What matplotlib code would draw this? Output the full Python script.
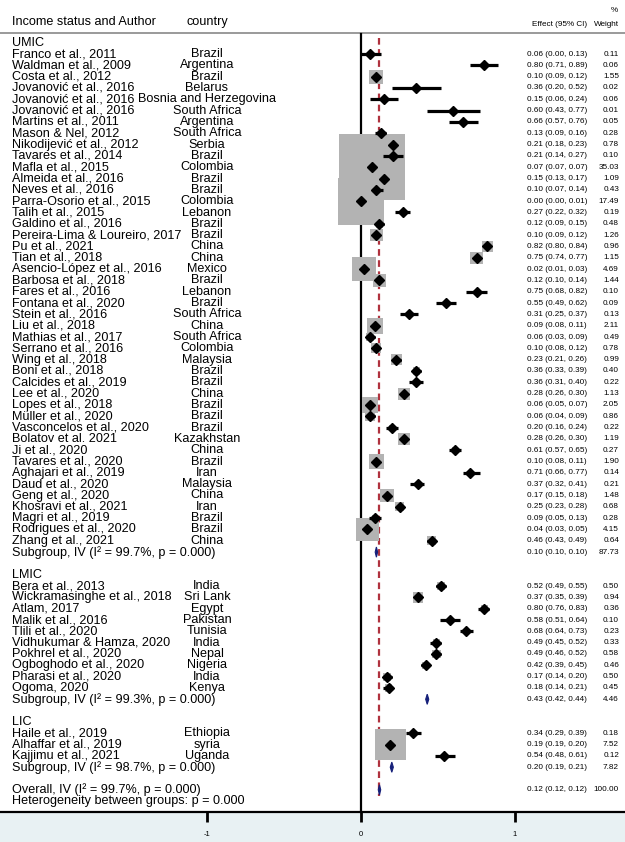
import matplotlib
matplotlib.use("Agg")
import matplotlib.pyplot as plt
from matplotlib.patches import Polygon
from matplotlib.transforms import blended_transform_factory

plt.rcParams['font.family'] = ['Liberation Sans', 'DejaVu Sans']

# ---- data ----
groups = ['UMIC', 'LMIC', 'LIC']

authors = [
    'Franco et al., 2011', 'Waldman et al., 2009', 'Costa et al., 2012',
    'Jovanović et al., 2016', 'Jovanović et al., 2016', 'Jovanović et al., 2016',
    'Martins et al., 2011', 'Mason & Nel, 2012', 'Nikodijević et al., 2012',
    'Tavares et al., 2014', 'Mafla et al., 2015', 'Almeida et al., 2016',
    'Neves et al., 2016', 'Parra-Osorio et al., 2015', 'Talih et al., 2015',
    'Galdino et al., 2016', 'Pereira-Lima & Loureiro, 2017', 'Pu et al., 2021',
    'Tian et al., 2018', 'Asencio-López et al., 2016', 'Barbosa et al., 2018',
    'Fares et al., 2016', 'Fontana et al., 2020', 'Stein et al., 2016',
    'Liu et al., 2018', 'Mathias et al., 2017', 'Serrano et al., 2016',
    'Wing et al., 2018', 'Boni et al., 2018', 'Calcides et al., 2019',
    'Lee et al., 2020', 'Lopes et al., 2018', 'Müller et al., 2020',
    'Vasconcelos et al., 2020', 'Bolatov et al. 2021', 'Ji et al., 2020',
    'Tavares et al., 2020', 'Aghajari et al., 2019', 'Daud et al., 2020',
    'Geng et al., 2020', 'Khosravi et al., 2021', 'Magri et al., 2019',
    'Rodrigues et al., 2020', 'Zhang et al., 2021',
    'Bera et al., 2013', 'Wickramasinghe et al., 2018', 'Atlam, 2017',
    'Malik et al., 2016', 'Tlili et al., 2020', 'Vidhukumar & Hamza, 2020',
    'Pokhrel et al., 2020', 'Ogboghodo et al., 2020', 'Pharasi et al., 2020',
    'Ogoma, 2020',
    'Haile et al., 2019', 'Alhaffar et al., 2019', 'Kajjimu et al., 2021',
]

countries = [
    'Brazil', 'Argentina', 'Brazil', 'Belarus', 'Bosnia and Herzegovina',
    'South Africa', 'Argentina', 'South Africa', 'Serbia', 'Brazil',
    'Colombia', 'Brazil', 'Brazil', 'Colombia', 'Lebanon', 'Brazil', 'Brazil',
    'China', 'China', 'Mexico', 'Brazil', 'Lebanon', 'Brazil', 'South Africa',
    'China', 'South Africa', 'Colombia', 'Malaysia', 'Brazil', 'Brazil',
    'China', 'Brazil', 'Brazil', 'Brazil', 'Kazakhstan', 'China', 'Brazil',
    'Iran', 'Malaysia', 'China', 'Iran', 'Brazil', 'Brazil', 'China',
    'India', 'Sri Lank', 'Egypt', 'Pakistan', 'Tunisia', 'India', 'Nepal',
    'Nigeria', 'India', 'Kenya',
    'Ethiopia', 'syria', 'Uganda',
]

group_of = ['UMIC'] * 44 + ['LMIC'] * 10 + ['LIC'] * 3

est = [0.06, 0.80, 0.10, 0.36, 0.15, 0.60, 0.66, 0.13, 0.21, 0.21, 0.07, 0.15,
       0.10, 0.00, 0.27, 0.12, 0.10, 0.82, 0.75, 0.02, 0.12, 0.75, 0.55, 0.31,
       0.09, 0.06, 0.10, 0.23, 0.36, 0.36, 0.28, 0.06, 0.06, 0.20, 0.28, 0.61,
       0.10, 0.71, 0.37, 0.17, 0.25, 0.09, 0.04, 0.46,
       0.52, 0.37, 0.80, 0.58, 0.68, 0.49, 0.49, 0.42, 0.17, 0.18,
       0.34, 0.19, 0.54]
lo = [0.00, 0.71, 0.09, 0.20, 0.06, 0.43, 0.57, 0.09, 0.18, 0.14, 0.07, 0.13,
      0.07, 0.00, 0.22, 0.09, 0.09, 0.80, 0.74, 0.01, 0.10, 0.68, 0.49, 0.25,
      0.08, 0.03, 0.08, 0.21, 0.33, 0.31, 0.26, 0.05, 0.04, 0.16, 0.26, 0.57,
      0.08, 0.66, 0.32, 0.15, 0.23, 0.05, 0.03, 0.43,
      0.49, 0.35, 0.76, 0.51, 0.64, 0.45, 0.46, 0.39, 0.14, 0.14,
      0.29, 0.19, 0.48]
hi = [0.13, 0.89, 0.12, 0.52, 0.24, 0.77, 0.76, 0.16, 0.23, 0.27, 0.07, 0.17,
      0.14, 0.01, 0.32, 0.15, 0.12, 0.84, 0.77, 0.03, 0.14, 0.82, 0.62, 0.37,
      0.11, 0.09, 0.12, 0.26, 0.39, 0.40, 0.30, 0.07, 0.09, 0.24, 0.30, 0.65,
      0.11, 0.77, 0.41, 0.18, 0.28, 0.13, 0.05, 0.49,
      0.55, 0.39, 0.83, 0.64, 0.73, 0.52, 0.52, 0.45, 0.20, 0.21,
      0.39, 0.20, 0.61]
weight = [0.11, 0.06, 1.55, 0.02, 0.06, 0.01, 0.05, 0.28, 0.78, 0.10, 35.03,
          1.09, 0.43, 17.49, 0.19, 0.48, 1.26, 0.96, 1.15, 4.69, 1.44, 0.10,
          0.09, 0.13, 2.11, 0.49, 0.78, 0.99, 0.40, 0.22, 1.13, 2.05, 0.86,
          0.22, 1.19, 0.27, 1.90, 0.14, 0.21, 1.48, 0.68, 0.28, 4.15, 0.64,
          0.50, 0.94, 0.36, 0.10, 0.23, 0.33, 0.58, 0.46, 0.50, 0.45,
          0.18, 7.52, 0.12]

sub_est = [0.10, 0.43, 0.20]
sub_lo = [0.10, 0.42, 0.19]
sub_hi = [0.10, 0.44, 0.21]
sub_w = [87.73, 4.46, 7.82]
sub_i2 = [99.7, 99.3, 98.7]
sub_p = [0.000, 0.000, 0.000]

overall_est, overall_lo, overall_hi, overall_w = 0.12, 0.12, 0.12, 100.00
overall_i2, overall_p = 99.7, 0.000
between_p = 0.000

xticks = [-1, 0, 1]

# ---- layout (pixel mapping) ----
W, H = 625, 842
px0, px_per = 361, 154          # x = 0 at 361 px, 154 px per unit
row0_px, row_px = 42.7, 11.32   # row 0 at 42.7 px

fig = plt.figure(figsize=(W / 100, H / 100), dpi=100)
ax = fig.add_axes([0, 0, 1, 1])
ax.set_xlim(-px0 / px_per, (W - px0) / px_per)
ax.set_ylim((H - row0_px) / row_px, -row0_px / row_px)
ax.axis('off')

def prow(p):
    return (p - row0_px) / row_px

tx = blended_transform_factory(fig.transFigure, ax.transData)
def fx(p):
    return p / W

fs = 9.1
fs_small = 5.9
navy = '#16207a'

# rows
study_rows, sub_rows, head_rows = [], [], []
r = 0
for g in groups:
    head_rows.append(r)
    r += 1
    for i in range(len(authors)):
        if group_of[i] == g:
            study_rows.append(r)
            r += 1
    sub_rows.append(r)
    r += 2
overall_row = r
het_row = r + 1
axis_row = prow(812)

# bottom band and axis
ax.axhspan(axis_row, prow(H + 5), color='#e8f1f3', zorder=0)
ax.axhline(axis_row, color='black', lw=1.6, zorder=3)
ax.axhline(prow(33), color='#9a9a9a', lw=1.4, zorder=3)
for t in xticks:
    ax.plot([t, t], [axis_row, prow(822)], color='black', lw=2, zorder=3,
            solid_capstyle='butt')
    ax.text(t, prow(835), str(t), ha='center', va='center', fontsize=5.5)

# null line and overall line
ax.plot([0, 0], [prow(34), axis_row], color='black', lw=1.6, zorder=3)
ax.plot([overall_est, overall_est], [prow(38), prow(796)], color='#b0323e',
        lw=1.6, ls=(0, (3, 2)), zorder=2)

# header
ax.text(fx(12), prow(22), 'Income status and Author', transform=tx,
        fontsize=fs, va='center', ha='left')
ax.text(fx(207), prow(22), 'country', transform=tx, fontsize=fs,
        va='center', ha='center')
ax.text(fx(587), prow(25), 'Effect (95% CI)', transform=tx, fontsize=fs_small,
        va='center', ha='right')
ax.text(fx(619), prow(25), 'Weight', transform=tx, fontsize=fs_small,
        va='center', ha='right')
ax.text(fx(614), prow(11), '%', transform=tx, fontsize=fs_small,
        va='center', ha='center')

for g, hr in zip(groups, head_rows):
    ax.text(fx(12), hr, g, transform=tx, fontsize=fs, va='center')

# studies
ax.scatter(est, study_rows, s=[65 * w for w in weight], marker='s',
           color='#b3b3b3', lw=0, zorder=4)
ax.hlines(study_rows, lo, hi, color='black', lw=2.3, zorder=5)
ax.plot(est, study_rows, 'D', color='black', ms=5.2, zorder=6)
for i, yr in enumerate(study_rows):
    ax.text(fx(12), yr, authors[i], transform=tx, fontsize=fs, va='center')
    ax.text(fx(207), yr, countries[i], transform=tx, fontsize=fs,
            va='center', ha='center')
    ax.text(fx(527), yr, '%.2f (%.2f, %.2f)' % (est[i], lo[i], hi[i]),
            transform=tx, fontsize=fs_small, va='center')
    ax.text(fx(619), yr, '%.2f' % weight[i], transform=tx,
            fontsize=fs_small, va='center', ha='right')

def summary_diamond(e, l, h, yr):
    hw = max((h - l) / 2, 0.008)
    l2, h2 = min(l, e - hw), max(h, e + hw)
    ax.add_patch(Polygon([(l2, yr), (e, yr - 0.45), (h2, yr), (e, yr + 0.45)],
                         closed=True, fc=navy, ec=navy, lw=0.8, zorder=6))

for k, yr in enumerate(sub_rows):
    summary_diamond(sub_est[k], sub_lo[k], sub_hi[k], yr)
    ax.text(fx(12), yr, 'Subgroup, IV (I² = %.1f%%, p = %.3f)' % (sub_i2[k], sub_p[k]),
            transform=tx, fontsize=fs, va='center')
    ax.text(fx(527), yr, '%.2f (%.2f, %.2f)' % (sub_est[k], sub_lo[k], sub_hi[k]),
            transform=tx, fontsize=fs_small, va='center')
    ax.text(fx(619), yr, '%.2f' % sub_w[k], transform=tx,
            fontsize=fs_small, va='center', ha='right')

summary_diamond(overall_est, overall_lo, overall_hi, overall_row)
ax.text(fx(12), overall_row, 'Overall, IV (I² = %.1f%%, p = %.3f)' % (overall_i2, overall_p),
        transform=tx, fontsize=fs, va='center')
ax.text(fx(527), overall_row, '%.2f (%.2f, %.2f)' % (overall_est, overall_lo, overall_hi),
        transform=tx, fontsize=fs_small, va='center')
ax.text(fx(619), overall_row, '%.2f' % overall_w, transform=tx,
        fontsize=fs_small, va='center', ha='right')
ax.text(fx(12), het_row, 'Heterogeneity between groups: p = %.3f' % between_p,
        transform=tx, fontsize=fs, va='center')

fig.savefig('out.png', dpi=100)
